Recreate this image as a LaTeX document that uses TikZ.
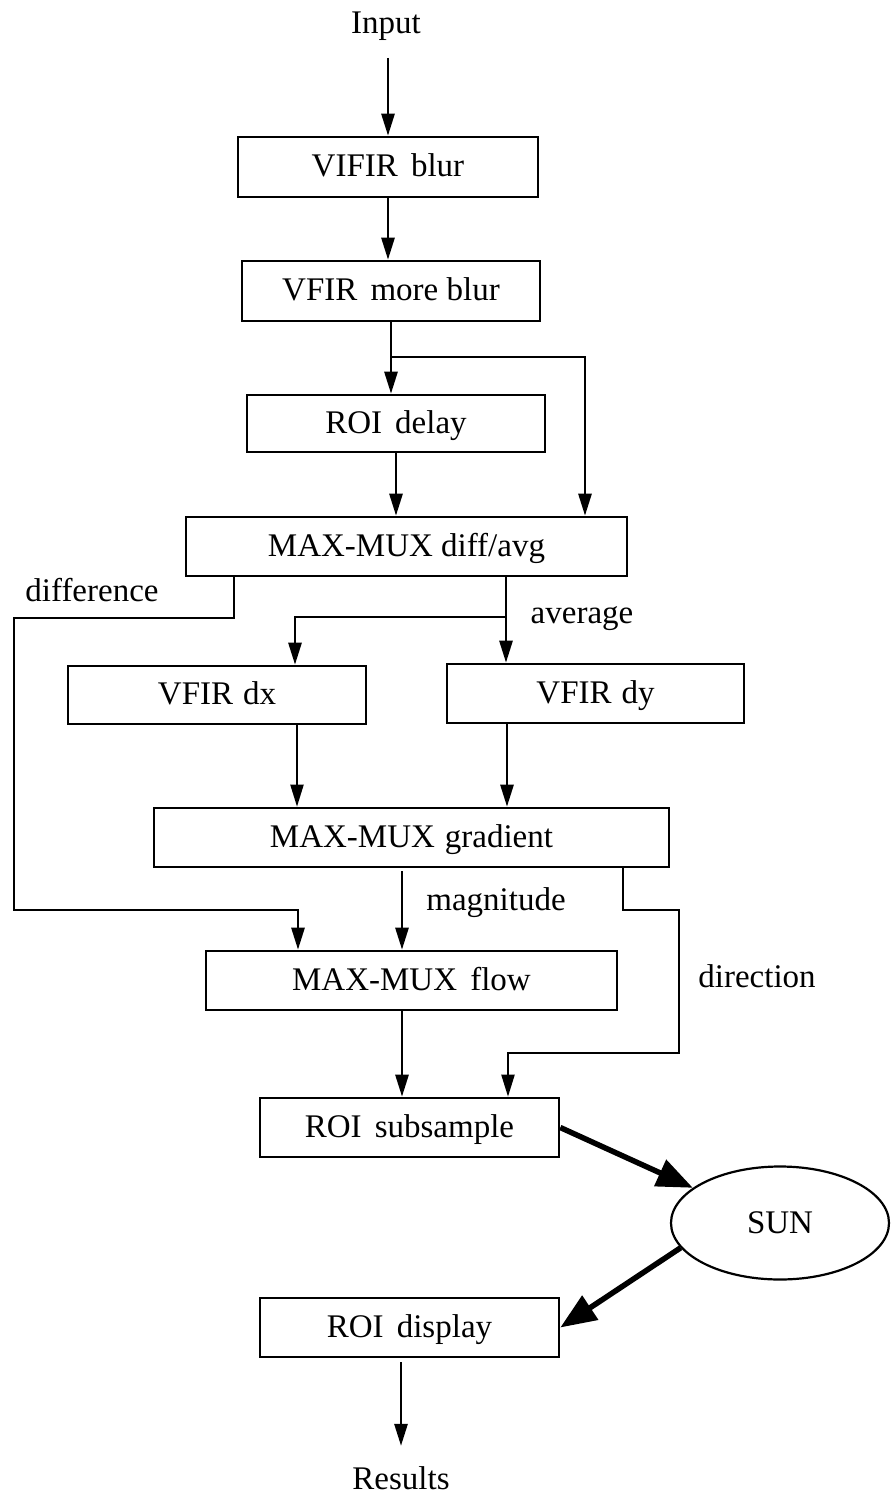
\documentclass[tikz,border=0pt]{standalone}
\usepackage{fontspec}
\setmainfont{Liberation Serif}
\usetikzlibrary{arrows.meta,shapes.geometric}
\begin{document}
\begin{tikzpicture}[x=1pt,y=-1pt,
  every node/.style={font=\fontsize{33}{38}\selectfont},
  box/.style={draw, line width=2.6pt, minimum height=59pt, inner sep=0pt, text height=22pt, text depth=3pt},
  arr/.style={line width=2.7pt, -{Triangle[length=22pt,width=13pt]}},
  big/.style={line width=5.5pt, -{Triangle[length=36pt,width=28pt]}}]
\useasboundingbox (0,0) rectangle (891,1497);
% nodes
\node (in) at (386,26) {Input};
\node[box, minimum width=300pt, minimum height=60pt] (blur) at (388,167) {VIFIR\hspace{0.4em}blur};
\node[box, minimum width=298pt, minimum height=60pt] (more) at (391,291) {VFIR\hspace{0.4em}more blur};
\node[box, minimum width=298pt, minimum height=57pt] (delay) at (396,423.5) {ROI\hspace{0.4em}delay};
\node[box, minimum width=441pt] (da) at (406.5,546.5) {MAX-MUX diff/avg};
\node[box, minimum width=298pt, minimum height=58pt] (dx) at (217,695) {VFIR\hspace{0.3em}dx};
\node[box, minimum width=297pt] (dy) at (595.5,693.5) {VFIR\hspace{0.3em}dy};
\node[box, minimum width=515pt] (grad) at (411.5,837.5) {MAX-MUX\hspace{0.3em}gradient};
\node[box, minimum width=411pt] (flow) at (411.5,980.5) {MAX-MUX\hspace{0.4em}flow};
\node[box, minimum width=299pt] (sub) at (409.5,1127.5) {ROI\hspace{0.4em}subsample};
\node[draw, ellipse, line width=2.2pt, minimum width=218pt, minimum height=113pt, inner sep=0pt] (sun) at (780,1223) {SUN};
\node[box, minimum width=299pt] (disp) at (409.5,1327.5) {ROI\hspace{0.4em}display};
\node (res) at (401,1478) {Results};
% labels
\node (ldiff) at (92,590) {difference};
\node (lavg) at (582,619) {average};
\node (lmag) at (496,903) {magnitude};
\node (ldir) at (757,976) {direction};
% bend coordinates
\coordinate (rj) at (585,357);
\coordinate (d1) at (234,618);
\coordinate (d2) at (14,618);
\coordinate (d3) at (14,910);
\coordinate (d4) at (298,910);
\coordinate (ax) at (506,617);
\coordinate (bx) at (295,617);
\coordinate (cx) at (297,0);
\coordinate (ex) at (507,0);
\coordinate (fx) at (402,0);
\coordinate (g1) at (623,910);
\coordinate (g2) at (679,910);
\coordinate (g3) at (679,1053);
\coordinate (g4) at (508,1053);
\coordinate (hx) at (401,0);
% connectors
\draw[arr, shorten <=14pt] (blur.north |- in.south) -- (blur.north);
\draw[arr] (blur.south) -- (blur.south |- more.north);
\draw[arr] (more.south) -- (more.south |- delay.north);
\draw[arr] (more.south |- rj) -- (rj) -- (rj |- da.north);
\draw[arr] (delay.south) -- (delay.south |- da.north);
\draw[arr] (d1 |- da.south) -- (d1) -- (d2) -- (d3) -- (d4) -- (d4 |- flow.north);
\draw[arr] (ax |- da.south) -- (ax |- dy.north);
\draw[arr] (ax) -- (bx) -- (bx |- dx.north);
\draw[arr, line width=2pt] (cx |- dx.south) -- (cx |- grad.north);
\draw[arr] (ex |- dy.south) -- (ex |- grad.north);
\draw[arr, shorten <=3pt] (fx |- grad.south) -- (fx |- flow.north);
\draw[arr, line width=2.2pt] (g1 |- grad.south) -- (g1) -- (g2) -- (g3) -- (g4) -- (g4 |- sub.north);
\draw[arr] (fx |- flow.south) -- (fx |- sub.north);
\draw[big] (sub.east) -- (sun.158);
\draw[big] (sun.194) -- (disp.east);
\draw[arr, shorten <=4pt, shorten >=17pt] (hx |- disp.south) -- (hx |- res.north);
\end{tikzpicture}
\end{document}
